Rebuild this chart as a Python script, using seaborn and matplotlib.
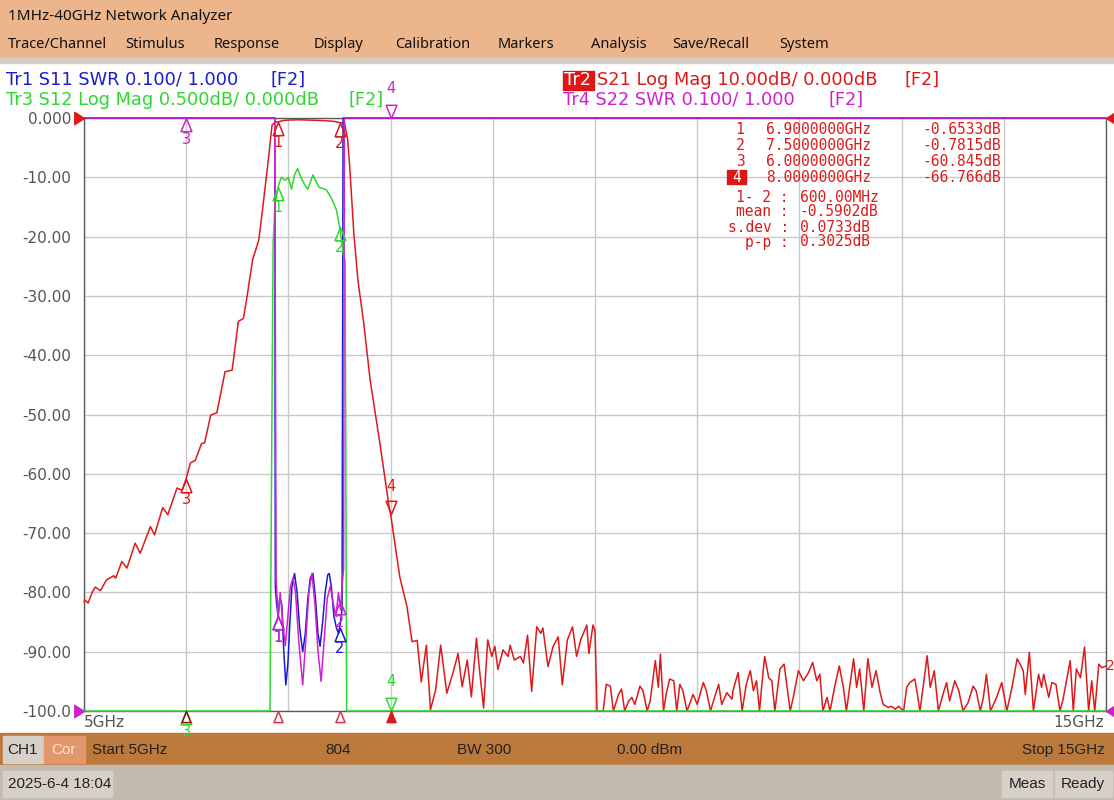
import numpy as np
import pandas as pd
import matplotlib
matplotlib.use("Agg")
import matplotlib.pyplot as plt
from matplotlib.patches import Rectangle
from matplotlib.path import Path
import seaborn as sns

# ---------------- data ----------------
# Tr2 S21 (dB) -- active trace, 10 dB/div, ref 0 dB at top
RED_FREQ = [5.00, 5.01, 5.04, 5.08, 5.11, 5.16, 5.22, 5.29, 5.31, 5.37, 5.42, 5.50, 5.55, 5.65,
            5.69, 5.77, 5.82, 5.91, 5.96, 6.00, 6.04, 6.09, 6.15, 6.18, 6.24, 6.30, 6.38, 6.45,
            6.51, 6.56, 6.59, 6.62, 6.65, 6.71, 6.75, 6.80, 6.84, 6.87, 6.90, 6.95, 7.00, 7.05,
            7.10, 7.15, 7.20, 7.25, 7.30, 7.35, 7.40, 7.45, 7.50, 7.55, 7.58, 7.60, 7.62, 7.64,
            7.68, 7.74, 7.80, 7.90, 7.99, 8.00, 8.09, 8.16, 8.21, 8.26, 8.30, 8.35, 8.39, 8.44,
            8.49, 8.55, 8.61, 8.66, 8.70, 8.75, 8.79, 8.84, 8.87, 8.91, 8.95, 8.99, 9.02, 9.05,
            9.10, 9.15, 9.17, 9.21, 9.27, 9.30, 9.34, 9.38, 9.43, 9.47, 9.49, 9.54, 9.59, 9.64,
            9.68, 9.73, 9.78, 9.82, 9.86, 9.92, 9.94, 9.98, 10.00, 10.02, 10.08, 10.11, 10.15,
            10.18, 10.23, 10.26, 10.29, 10.33, 10.36, 10.39, 10.44, 10.47, 10.51, 10.54, 10.59,
            10.62, 10.64, 10.67, 10.70, 10.73, 10.77, 10.80, 10.83, 10.86, 10.90, 10.93, 10.96,
            11.00, 11.06, 11.09, 11.13, 11.17, 11.21, 11.24, 11.29, 11.34, 11.35, 11.40, 11.44,
            11.48, 11.52, 11.55, 11.58, 11.61, 11.63, 11.66, 11.70, 11.73, 11.76, 11.81, 11.85,
            11.88, 11.91, 11.94, 11.99, 12.04, 12.09, 12.13, 12.17, 12.20, 12.23, 12.27, 12.30,
            12.35, 12.39, 12.43, 12.46, 12.53, 12.56, 12.59, 12.63, 12.67, 12.71, 12.75, 12.79,
            12.82, 12.87, 12.90, 12.94, 12.97, 13.02, 13.05, 13.08, 13.13, 13.18, 13.25, 13.28,
            13.32, 13.36, 13.41, 13.44, 13.47, 13.52, 13.56, 13.60, 13.65, 13.70, 13.73, 13.77,
            13.80, 13.83, 13.87, 13.93, 13.98, 14.03, 14.08, 14.13, 14.16, 14.19, 14.21, 14.25,
            14.29, 14.34, 14.37, 14.39, 14.44, 14.47, 14.51, 14.55, 14.58, 14.65, 14.68, 14.71,
            14.75, 14.79, 14.83, 14.86, 14.89, 14.93, 14.96, 15.00]
RED_DB = [-81.6, -81.3, -81.8, -80.0, -79.1, -79.7, -77.9, -77.2, -77.6, -74.8, -75.9, -71.7, -73.4, -68.9,
          -70.3, -65.7, -66.9, -62.4, -62.8, -60.8, -58.2, -57.7, -54.9, -54.8, -50.1, -49.7, -42.8, -42.5,
          -34.3, -33.8, -30.7, -27.3, -23.9, -20.6, -15.0, -7.6, -1.2, -0.7, -0.65, -0.42, -0.35, -0.33,
          -0.30, -0.32, -0.35, -0.38, -0.40, -0.45, -0.50, -0.58, -0.78, -0.9, -3.7, -8.2, -13.8, -19.4,
          -27.3, -35.0, -44.2, -55.4, -66.1, -66.8, -77.4, -82.4, -88.3, -88.1, -95.1, -88.9, -99.8, -96.5,
          -88.9, -97.0, -93.6, -90.3, -95.9, -91.4, -97.6, -87.7, -93.1, -99.5, -88.0, -90.8, -89.1, -93.0,
          -89.7, -90.8, -88.9, -91.4, -90.8, -91.9, -87.2, -96.7, -85.8, -86.9, -86.0, -92.5, -89.1, -87.5,
          -95.6, -88.0, -85.8, -90.8, -88.0, -85.5, -90.3, -85.5, -86.5, -100.0, -100.0, -95.5, -95.8,
          -100.0, -97.2, -96.3, -100.0, -98.3, -97.7, -98.9, -95.8, -96.6, -100.0, -98.3, -91.5,
          -96.0, -90.4, -100.0, -96.9, -94.6, -94.9, -100.0, -95.5, -96.6, -100.0, -98.6, -97.2,
          -98.9, -95.2, -96.6, -100.0, -97.7, -95.5, -98.9, -96.9, -98.0, -96.6, -93.5, -100.0,
          -95.5, -93.2, -96.6, -94.9, -100.0, -96.0, -90.8, -94.4, -94.9, -100.0, -92.9, -92.1,
          -96.0, -100.0, -97.7, -93.2, -94.9, -93.5, -91.8, -94.9, -93.8, -100.0, -97.7, -100.0,
          -95.5, -92.4, -96.0, -100.0, -91.2, -96.0, -92.9, -100.0, -91.2, -96.0, -93.2, -96.9,
          -98.9, -99.4, -99.2, -99.7, -99.2, -100.0, -96.0, -95.2, -94.6, -100.0, -90.7, -96.0,
          -93.2, -100.0, -96.9, -95.2, -98.3, -94.9, -96.6, -100.0, -98.6, -95.8, -96.6, -100.0,
          -97.7, -93.8, -100.0, -97.7, -95.2, -100.0, -96.0, -91.2, -92.1, -93.2, -97.2, -90.1,
          -100.0, -93.8, -96.0, -93.8, -97.7, -95.2, -95.5, -100.0, -98.0, -91.5, -100.0, -92.9,
          -94.4, -89.2, -100.0, -94.9, -100.0, -92.1, -92.7, -92.4]

# Tr3 S12 (dB), 0.500 dB/div, ref 0 dB at top
GREEN_FREQ = [5.00, 6.00, 6.50, 6.82, 6.85, 6.87, 6.90, 6.93, 6.97, 7.00, 7.03, 7.06, 7.09, 7.12,
              7.16, 7.19, 7.24, 7.27, 7.30, 7.37, 7.42, 7.47, 7.50, 7.52, 7.54, 7.555, 7.57,
              8.00, 10.00, 15.00]
GREEN_DB = [-81.0, -61.0, -37.0, -5.1, -1.06, -0.72, -0.58, -0.50, -0.525, -0.50, -0.60, -0.48, -0.425,
            -0.495, -0.565, -0.60, -0.48, -0.535, -0.585, -0.605, -0.675, -0.775, -0.915, -1.03, -1.17,
            -1.20, -5.1, -66.0, -88.0, -92.0]

# Tr1 S11 SWR, 0.100/div, ref 1.000 at bottom
BLUE_FREQ = [5.00, 6.867, 6.872, 6.885, 6.900, 6.915, 6.935, 6.955, 6.975, 6.995, 7.015, 7.035, 7.060,
             7.085, 7.110, 7.140, 7.165, 7.190, 7.215, 7.240, 7.265, 7.290, 7.310, 7.335, 7.360,
             7.385, 7.400, 7.420, 7.445, 7.470, 7.490, 7.510, 7.525, 7.535, 15.00]
BLUE_SWR = [5.0, 5.0, 1.21, 1.18, 1.16, 1.19, 1.18, 1.10, 1.044, 1.08, 1.15, 1.21, 1.232,
            1.20, 1.14, 1.10, 1.13, 1.19, 1.225, 1.232, 1.19, 1.13, 1.109, 1.15, 1.20,
            1.23, 1.232, 1.21, 1.16, 1.14, 1.131, 1.15, 1.17, 5.0, 5.0]

# Tr4 S22 SWR, 0.100/div, ref 1.000 at bottom
MAG_FREQ = [5.00, 6.866, 6.880, 6.900, 6.920, 6.945, 6.970, 6.995, 7.020, 7.045, 7.070, 7.100, 7.140,
            7.170, 7.200, 7.230, 7.260, 7.290, 7.320, 7.350, 7.380, 7.410, 7.440, 7.465, 7.490,
            7.510, 7.525, 7.540, 7.548, 15.00]
MAG_SWR = [5.0, 5.0, 1.22, 1.16, 1.20, 1.15, 1.11, 1.16, 1.21, 1.225, 1.20, 1.12, 1.044,
           1.12, 1.20, 1.232, 1.18, 1.10, 1.05, 1.12, 1.19, 1.21, 1.18, 1.16, 1.20,
           1.17, 1.21, 1.24, 5.0, 5.0]

MARKER_NUM = ["1", "2", "3", "4"]
MARKER_GHZ = [6.9, 7.5, 6.0, 8.0]
MARKER_TXT = ["6.9000000GHz", "7.5000000GHz", "6.0000000GHz", "8.0000000GHz"]
MARKER_S21 = [-0.6533, -0.7815, -60.845, -66.766]
MARKER_S21_TXT = ["-0.6533dB", "-0.7815dB", "-60.845dB", "-66.766dB"]
STAT_KEYS = ["1- 2 :", "mean :", "s.dev :", "p-p :"]
STAT_VALS = ["600.00MHz", "-0.5902dB", "0.0733dB", "0.3025dB"]

Y_TICKS = [0, -10, -20, -30, -40, -50, -60, -70, -80, -90, -100]
Y_LABELS = ["0.000", "-10.00", "-20.00", "-30.00", "-40.00", "-50.00", "-60.00",
            "-70.00", "-80.00", "-90.00", "-100.0"]
MENU = ["Trace/Channel", "Stimulus", "Response", "Display", "Calibration", "Markers",
        "Analysis", "Save/Recall", "System"]
BAR_ITEMS = ["Start 5GHz", "804", "BW 300", "0.00 dBm", "Stop 15GHz"]

# ---------------- style ----------------
sns.set_theme(style="white")
plt.rcParams["font.family"] = ["DejaVu Sans"]
plt.rcParams["axes.unicode_minus"] = False

RED = "#dd1a1a"
GREEN = "#2ed82e"
BLUE = "#1c1cd0"
MAG = "#cf22cf"
GRAY_TXT = "#555555"

W, H = 1114, 800
fig = plt.figure(figsize=(W / 100, H / 100), dpi=100)

# background / window chrome in pixel coordinates
bg = fig.add_axes([0, 0, 1, 1])
bg.set_xlim(0, W)
bg.set_ylim(H, 0)
bg.axis("off")
bg.add_patch(Rectangle((0, 0), W, 58, color="#edb58b", zorder=0))
bg.add_patch(Rectangle((0, 58), W, 5, color="#d5cec5", zorder=0))
bg.add_patch(Rectangle((0, 733), W, 32, color="#bb7a3c", zorder=0))
bg.add_patch(Rectangle((0, 765), W, 35, color="#c3bbaf", zorder=0))
bg.add_patch(Rectangle((3, 736), 41, 27, color="#d6d0c8", zorder=1))
bg.add_patch(Rectangle((44, 736), 41, 27, color="#e3976a", zorder=1))
for (x0, w0) in [(3, 109), (1002, 50), (1055, 57)]:
    bg.add_patch(Rectangle((x0, 771), w0, 26, color="#d6d0c8", zorder=1))

ui = ["Noto Sans", "DejaVu Sans"]
bar = ["Liberation Sans", "DejaVu Sans"]
bfs = 11
bg.text(8, 16, "1MHz-40GHz Network Analyzer", fontsize=11, family=ui, va="center", color="#111111")
menu_x = [8, 125, 214, 314, 395, 498, 591, 672, 779]
for mx, m in zip(menu_x, MENU):
    bg.text(mx, 45, m, fontsize=10.5, family=ui, va="center", color="#111111")

bg.text(23, 750, "CH1", fontsize=bfs, family=bar, ha="center", va="center", color="#222222")
bg.text(64, 750, "Cor", fontsize=bfs, family=bar, ha="center", va="center", color="#f7e6d8")
bar_x = [92, 325, 457, 617, 1105]
bar_ha = ["left", "left", "left", "left", "right"]
for bx, bt, ha in zip(bar_x, BAR_ITEMS, bar_ha):
    bg.text(bx, 750, bt, fontsize=bfs, family=bar, ha=ha, va="center", color="#222222")
bg.text(8, 784, "2025-6-4 18:04", fontsize=bfs, family=bar, va="center", color="#222222")
bg.text(1027, 784, "Meas", fontsize=bfs, family=bar, ha="center", va="center", color="#222222")
bg.text(1083, 784, "Ready", fontsize=bfs, family=bar, ha="center", va="center", color="#222222")

# trace headers
hfs = 12.8
bg.text(6, 80, "Tr1 S11 SWR 0.100/ 1.000", fontsize=hfs, color=BLUE, va="center")
bg.text(271, 80, "[F2]", fontsize=hfs, color=BLUE, va="center")
bg.text(6, 100, "Tr3 S12 Log Mag 0.500dB/ 0.000dB", fontsize=hfs, color=GREEN, va="center")
bg.text(348, 100, "[F2]", fontsize=hfs, color=GREEN, va="center")
bg.add_patch(Rectangle((563, 71), 31, 19, color="#e01515", zorder=1))
bg.text(564, 80, "Tr2", fontsize=hfs, color="white", va="center", zorder=2)
bg.text(597, 80, "S21 Log Mag 10.00dB/ 0.000dB", fontsize=hfs, color=RED, va="center")
bg.text(904, 80, "[F2]", fontsize=hfs, color=RED, va="center")
bg.text(563, 100, "Tr4 S22 SWR 0.100/ 1.000", fontsize=hfs, color=MAG, va="center")
bg.text(829, 100, "[F2]", fontsize=hfs, color=MAG, va="center")

# ---------------- plot axes ----------------
L, R, T, B = 84, 1106, 118, 711
ax = fig.add_axes([L / W, 1 - B / H, (R - L) / W, (B - T) / H])
ax.set_facecolor("white")
ax.set_xlim(5, 15)
ax.set_ylim(-100, 0)
ax.set_xticks(np.arange(5, 16, 1))
ax.set_xticklabels([])
ax.set_yticks(Y_TICKS)
ax.set_yticklabels(Y_LABELS, fontsize=11, color=GRAY_TXT)
ax.tick_params(axis="both", length=0, pad=9)
ax.grid(True, color="#c9c9c9", lw=1)
for s in ax.spines.values():
    s.set_color("#5a5a5a")
    s.set_linewidth(1)


def s12_to_axis(v):
    return np.clip(np.asarray(v) * (10.0 / 0.5), -100, 0)


def swr_to_axis(v):
    return np.clip(-100 + (np.asarray(v) - 1.0) * (10.0 / 0.1), -100, 0)


traces = [
    ("S21", RED_FREQ, np.clip(np.asarray(RED_DB), -100, 0), RED, 4),
    ("S11", BLUE_FREQ, swr_to_axis(BLUE_SWR), BLUE, 5),
    ("S12", GREEN_FREQ, s12_to_axis(GREEN_DB), GREEN, 6),
    ("S22", MAG_FREQ, swr_to_axis(MAG_SWR), MAG, 7),
]
for name, f, d, c, z in traces:
    df = pd.DataFrame({"freq": f, "disp": d})
    sns.lineplot(data=df, x="freq", y="disp", ax=ax, color=c, lw=1.1, estimator=None,
                 sort=False, clip_on=False, zorder=z)
ax.set_xlabel("")
ax.set_ylabel("")

UP = Path([(0, 0), (-0.45, -1.1), (0.45, -1.1), (0, 0)], [1, 2, 2, 79])
DOWN = Path([(0, 0), (-0.45, 1.1), (0.45, 1.1), (0, 0)], [1, 2, 2, 79])
RIGHT = Path([(0, 0), (-1.1, 0.7), (-1.1, -0.7), (0, 0)], [1, 2, 2, 79])
LEFT = Path([(0, 0), (1.1, 0.7), (1.1, -0.7), (0, 0)], [1, 2, 2, 79])


def marker(x, y, color, label, down=False, filled=False, z=9, dy=None):
    ax.plot([x], [y], marker=DOWN if down else UP, ms=19, mec=color, mfc=color if filled else "none",
            mew=1.1, ls="none", clip_on=False, zorder=z)
    if label:
        off = dy if dy is not None else (27 if down else -21)
        ax.annotate(label, (x, y), xytext=(0, off), textcoords="offset pixels", ha="center",
                    va="center", color=color, fontsize=10.5, zorder=z, annotation_clip=False)


# Tr2 (red) markers from the marker table
for n, fm, v in zip(MARKER_NUM, MARKER_GHZ, MARKER_S21):
    marker(fm, v, RED, n, down=(n == "4"))
# Tr3 (green) markers
gdisp = np.interp(MARKER_GHZ, GREEN_FREQ, s12_to_axis(GREEN_DB))
for n, fm, v in zip(MARKER_NUM, MARKER_GHZ, gdisp):
    marker(fm, v, GREEN, n, down=(n == "4"), dy=(30 if n == "4" else None))
# Tr1 (blue) and Tr4 (magenta) markers
bdisp = np.interp(MARKER_GHZ, BLUE_FREQ, swr_to_axis(BLUE_SWR))
mdisp = np.interp(MARKER_GHZ, MAG_FREQ, swr_to_axis(MAG_SWR))
for n, fm, v in zip(MARKER_NUM[:2], MARKER_GHZ[:2], bdisp[:2]):
    marker(fm, v, BLUE, n)
for n, fm, v in zip(MARKER_NUM, MARKER_GHZ, mdisp):
    marker(fm, v, MAG, n, down=(n == "4"), dy=(30 if n == "4" else None), z=10)

# stimulus indicators under the x axis (active trace)
for n, fm in zip(MARKER_NUM, MARKER_GHZ):
    col = "#8b1010" if n == "3" else "#e0304a"
    ax.plot([fm], [-100], marker=UP, ms=16, mec=RED if n == "4" else col,
            mfc=RED if n == "4" else "none", mew=1.1, ls="none", clip_on=False, zorder=11)

# reference position arrows
ax.plot([5], [0], marker=RIGHT, ms=14, color=RED, clip_on=False, zorder=12)
ax.plot([5], [-100], marker=RIGHT, ms=14, color=MAG, clip_on=False, zorder=12)
ax.plot([15], [0], marker=LEFT, ms=14, color=RED, clip_on=False, zorder=12)
ax.plot([15], [-100], marker=LEFT, ms=14, color=MAG, clip_on=False, zorder=12)
ax.annotate("2", (15, RED_DB[-1]), xytext=(0, 0), textcoords="offset pixels", ha="left",
            va="center", color=RED, fontsize=10, annotation_clip=False)

# x-range labels
ax.text(0.0, -0.02, "5GHz", transform=ax.transAxes, ha="left", va="center", fontsize=11, color=GRAY_TXT)
ax.text(0.998, -0.02, "15GHz", transform=ax.transAxes, ha="right", va="center", fontsize=11, color=GRAY_TXT)

# marker table (overlay axes on top of the plot)
tab = fig.add_axes([0, 0, 1, 1], facecolor="none")
tab.set_xlim(0, W)
tab.set_ylim(H, 0)
tab.axis("off")
mono = "DejaVu Sans Mono"
tfs = 10.5
for i, (n, ft, vt) in enumerate(zip(MARKER_NUM, MARKER_TXT, MARKER_S21_TXT)):
    yy = 129 + 16 * i
    if n == "4":
        tab.add_patch(Rectangle((727, yy - 7), 19, 14, color="#e01515", zorder=3))
        tab.text(737, yy, n, family=mono, fontsize=tfs, color="white", ha="center", va="center", zorder=4)
    else:
        tab.text(740, yy, n, family=mono, fontsize=tfs, color=RED, ha="center", va="center", zorder=4)
    tab.text(766, yy, ft, family=mono, fontsize=tfs, color=RED, ha="left", va="center", zorder=4)
    tab.text(1001, yy, vt, family=mono, fontsize=tfs, color=RED, ha="right", va="center", zorder=4)
for i, (k, v) in enumerate(zip(STAT_KEYS, STAT_VALS)):
    yy = 197 + 15 * i
    tab.text(789, yy, k, family=mono, fontsize=tfs, color=RED, ha="right", va="center", zorder=4)
    tab.text(800, yy, v, family=mono, fontsize=tfs, color=RED, ha="left", va="center", zorder=4)

fig.savefig("out.png", dpi=100)
